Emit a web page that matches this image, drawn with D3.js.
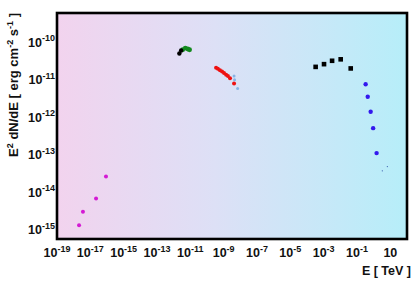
<!DOCTYPE html>
<meta charset="utf-8">
<script src="https://d3js.org/d3.v7.min.js"></script>
<style>
  body { margin: 0; background: #fff; }
  text { font-family: "Liberation Sans", Arial, sans-serif; font-weight: bold; fill: #111; }
</style>
<body>
<div id="chart"></div>
<script>
// x ticks (decade exponents) and y ticks
var xTickExp = [-19, -17, -15, -13, -11, -9, -7, -5, -3, -1, 1];
var yTickExp = [-15, -14, -13, -12, -11, -10];

// magenta (radio-ish)
var magE = [2.1e-18, 3.6e-18, 2.2e-17, 8.7e-17];
var magF = [1.3e-15, 3.0e-15, 6.8e-15, 2.6e-14];
// black small
var blkE = [2.2e-12, 2.8e-12];
var blkF = [5.0e-11, 6.0e-11];
// green
var grnE = [3.5e-12, 5e-12, 7e-12, 9e-12];
var grnF = [6.3e-11, 7.0e-11, 6.6e-11, 6.3e-11];
// red
var redE = [3.5e-10, 4.5e-10, 6e-10, 8e-10, 1.05e-9, 1.4e-9, 1.8e-9, 2.4e-9, 4.2e-9];
var redF = [2.1e-11, 1.95e-11, 1.8e-11, 1.65e-11, 1.5e-11, 1.35e-11, 1.25e-11, 1.1e-11, 7.9e-12];
// light blue
var lbE = [4.2e-9, 4.5e-9, 6.9e-9];
var lbF = [1.26e-11, 1.0e-11, 5.8e-12];
// black squares
var sqE = [3.3e-4, 1.05e-3, 3.2e-3, 1.05e-2, 4.2e-2];
var sqF = [2.2e-11, 2.6e-11, 3.2e-11, 3.5e-11, 2.0e-11];
// blue circles
var bluE = [0.33, 0.44, 0.66, 0.93, 1.5];
var bluF = [7.6e-12, 3.5e-12, 1.4e-12, 5.1e-13, 1.1e-13];
// tiny dots
var tinyE = [3.3, 6.6];
var tinyF = [3.7e-14, 4.8e-14];

var W = 420, H = 284;
var margin = {top: 13, right: 13, bottom: 45, left: 57};
var width = W - margin.left - margin.right,
    height = H - margin.top - margin.bottom;

var svg = d3.select("#chart").append("svg")
    .attr("width", W).attr("height", H);

var defs = svg.append("defs");
var grad = defs.append("linearGradient").attr("id", "bg")
    .attr("x1", "0%").attr("x2", "100%").attr("y1", "0%").attr("y2", "0%");
grad.append("stop").attr("offset", "0%").attr("stop-color", "#f2d3ee");
grad.append("stop").attr("offset", "45%").attr("stop-color", "#dde0f6");
grad.append("stop").attr("offset", "100%").attr("stop-color", "#b6eef9");

var g = svg.append("g")
    .attr("transform", "translate(" + margin.left + "," + margin.top + ")");

var x = d3.scaleLog().domain([1e-19, 1e2]).range([0, width]);
var y = d3.scaleLog().domain([Math.pow(10, -15.25), Math.pow(10, -9.22)]).range([height, 0]);

g.append("rect").attr("width", width).attr("height", height).attr("fill", "url(#bg)");

function zip(a, b) { return a.map(function(d, i) { return [d, b[i]]; }); }

function dots(E, F, r, color) {
    g.selectAll(null).data(zip(E, F)).enter().append("circle")
        .attr("cx", function(d) { return x(d[0]); })
        .attr("cy", function(d) { return y(d[1]); })
        .attr("r", r).attr("fill", color);
}

dots(magE, magF, 2, "#d41ad4");
dots(grnE, grnF, 2.4, "#138a1e");
dots(blkE, blkF, 2.2, "#000");
dots(redE, redF, 2, "#ee1111");
dots(lbE, lbF, 1.5, "#86b4e6");
dots(bluE, bluF, 2.2, "#3318ee");
dots(tinyE, tinyF, 0.6, "#3355aa");

g.selectAll(null).data(zip(sqE, sqF)).enter().append("rect")
    .attr("x", function(d) { return x(d[0]) - 2.3; })
    .attr("y", function(d) { return y(d[1]) - 2.3; })
    .attr("width", 4.6).attr("height", 4.6).attr("fill", "#000");

// frame
g.append("rect").attr("width", width).attr("height", height)
    .attr("fill", "none").attr("stroke", "#000").attr("stroke-width", 2.6);

// x tick labels
var xl = g.selectAll(null).data(xTickExp).enter().append("text")
    .attr("x", function(d) { return x(Math.pow(10, d)); })
    .attr("y", height + 18)
    .attr("text-anchor", "middle")
    .style("font-size", "12.5px");
xl.append("tspan").text("10");
xl.append("tspan").attr("dy", -5.5).style("font-size", "9px")
    .text(function(d) { return d === 1 ? "" : d; });

// y tick labels
var yl = g.selectAll(null).data(yTickExp).enter().append("text")
    .attr("x", -2)
    .attr("y", function(d) { return y(Math.pow(10, d)) + 4.5; })
    .attr("text-anchor", "end")
    .style("font-size", "12.5px");
yl.append("tspan").text("10");
yl.append("tspan").attr("dy", -5.5).style("font-size", "9px").text(function(d) { return d; });

// axis titles
svg.append("text")
    .attr("x", W - 9).attr("y", 275)
    .attr("text-anchor", "end")
    .style("font-size", "12.5px")
    .text("E [ TeV ]");

var yt = svg.append("text")
    .attr("transform", "translate(18," + margin.top + ")rotate(-90)")
    .attr("text-anchor", "end")
    .style("font-size", "13px");
yt.append("tspan").text("E");
yt.append("tspan").attr("dy", -5).style("font-size", "9px").text("2");
yt.append("tspan").attr("dy", 5).text(" dN/dE [ erg cm");
yt.append("tspan").attr("dy", -5).style("font-size", "9px").text("-2");
yt.append("tspan").attr("dy", 5).text(" s");
yt.append("tspan").attr("dy", -5).style("font-size", "9px").text("-1");
yt.append("tspan").attr("dy", 5).text(" ]");
</script>
</body>
